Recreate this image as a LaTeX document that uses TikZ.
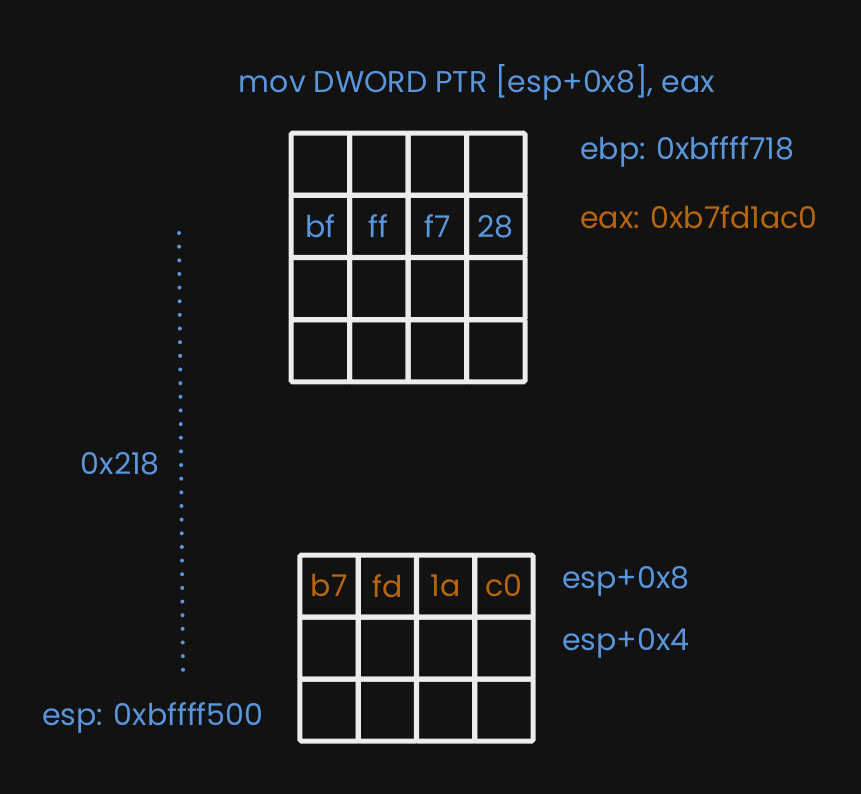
\documentclass[tikz,border=0pt]{standalone}
\usepackage{fontspec}
\setmainfont{Poppins}
\definecolor{bg}{HTML}{121212}
\definecolor{blu}{HTML}{5A96DC}
\definecolor{org}{HTML}{B8660E}
\definecolor{gridc}{HTML}{ECECEC}
\tikzset{
  cell/.style={draw=gridc, line width=5pt, rounded corners=1.5pt, minimum width=58.5pt, minimum height=62pt, inner sep=0pt},
  btxt/.style={text=blu, font=\fontsize{30}{34}\selectfont, inner sep=0pt},
  otxt/.style={text=org, font=\fontsize{30}{34}\selectfont, inner sep=0pt},
  bcell/.style={text=blu, font=\fontsize{30}{34}\selectfont, inner sep=0pt},
  ocell/.style={text=org, font=\fontsize{30}{34}\selectfont, inner sep=0pt},
}
\begin{document}
\begin{tikzpicture}[x=1pt,y=-1pt]
\fill[bg] (0,0) rectangle (861,794);
\useasboundingbox (0,0) rectangle (861,794);
% top grid
\foreach \r in {1,...,4}{
  \foreach \c in {1,...,4}{
    \node[cell] (t\r\c) at ({291+58.5*(\c-0.5)},{133+62.25*(\r-0.5)}) {};
  }
}
\node[bcell] at (t21) {bf};
\node[bcell] at (t22) {ff};
\node[bcell] at (t23) {f7};
\node[bcell] at (t24) {28};
% bottom grid
\foreach \r in {1,...,3}{
  \foreach \c in {1,...,4}{
    \node[cell] (b\r\c) at ({300+58.25*(\c-0.5)},{555+62*(\r-0.5)}) {};
  }
}
\node[ocell] at (b11) {b7};
\node[ocell] at (b12) {fd};
\node[ocell] at (b13) {1a};
\node[ocell] at (b14) {c0};
% labels
\node[btxt] (title) at (477,82) {mov DWORD PTR [esp+0x8], eax};
\node[btxt, anchor=west] (ebp) at (580,152) {ebp: 0xbffff718};
\node[otxt, anchor=west] (eax) at (580,217) {eax: 0xb7fd1ac0};
\node[btxt, anchor=west] (e8) at (562,581) {esp+0x8};
\node[btxt, anchor=west] (e4) at (562,643) {esp+0x4};
\node[btxt, anchor=east] (off) at (160,464) {0x218};
\node[btxt, anchor=west] (esp) at (42,718) {esp: 0xbffff500};
% dotted line
\coordinate (d1) at (179,233);
\coordinate (d2) at (183,671);
\draw[blu, line width=4pt, line cap=round, dash pattern=on 0pt off 13.65pt] (d1) -- (d2);
\end{tikzpicture}
\end{document}
